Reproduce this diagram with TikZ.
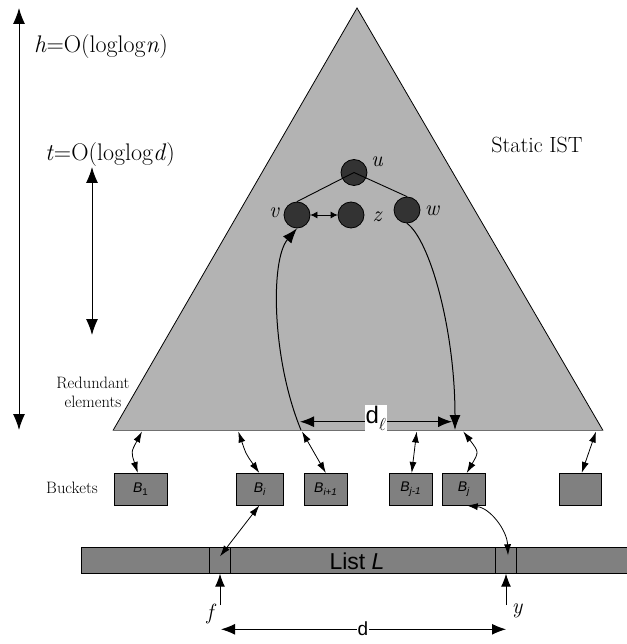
\documentclass[tikz,border=0pt]{standalone}
\usepackage{fontspec}
\setsansfont{Liberation Sans}
\usetikzlibrary{arrows.meta}
\definecolor{trigray}{HTML}{B3B3B3}
\definecolor{boxgray}{HTML}{808080}
\definecolor{dotgray}{HTML}{333333}
\definecolor{basegray}{HTML}{707070}
\begin{document}
\begin{tikzpicture}[x=1pt,y=-1pt,
  dotnode/.style={circle,minimum size=26pt,inner sep=0pt,fill=dotgray,draw=black,line width=0.8pt},
  lab/.style={inner sep=0pt,font=\fontsize{22}{22}\selectfont\itshape},
  bigtxt/.style={inner sep=0pt,font=\fontsize{24}{24}\selectfont},
  smalltxt/.style={inner sep=0pt,font=\fontsize{16.5}{19}\selectfont,align=center},
  bucket/.style={draw=black,fill=boxgray,minimum height=31.7pt,inner sep=0pt,line width=0.8pt,font=\fontsize{14}{14}\selectfont\sffamily},
  cell/.style={draw=black,minimum height=26pt,minimum width=21.4pt,inner sep=0pt,line width=0.8pt},
  bigdbl/.style={line width=1pt,{Latex[length=16pt,width=12pt]}-{Latex[length=16pt,width=12pt]}},
  midarr/.style={line width=1pt,-{Latex[length=15pt,width=11pt]}},
  middbl/.style={line width=1pt,{Latex[length=14pt,width=11pt]}-{Latex[length=14pt,width=11pt]}},
  smalldbl/.style={line width=0.8pt,{Latex[length=11pt,width=7pt]}-{Latex[length=11pt,width=7pt]}},
  tinydbl/.style={line width=0.8pt,{Latex[length=7pt,width=7pt]}-{Latex[length=7pt,width=7pt]}},
  uparr/.style={line width=1pt,-{Latex[length=13pt,width=10pt]}}
]
\useasboundingbox (0,0) rectangle (626,644);

% triangle (static IST)
\coordinate (apex) at (357,8);
\coordinate (bl) at (113,430.5);
\coordinate (br) at (603,430.5);
\fill[trigray] (apex) -- (bl) -- (br) -- cycle;
\draw[line width=0.8pt] (bl) -- (apex) -- (br);
\draw[line width=1.2pt,basegray] (bl) -- (br);

\node[inner sep=0pt,font=\fontsize{22}{22}\selectfont] (ist) at (537,145) {Static IST};

% left measures
\coordinate (hT) at (19,8);
\coordinate (hB) at (19,430);
\draw[bigdbl] (hB) -- (hT);
\node[bigtxt] (hl) at (101,47) {\textit{h}=O(loglog\textit{n})};
\node[bigtxt] (tl) at (110,155) {\textit{t}=O(loglog\textit{d})};
\coordinate (tT) at (92,167);
\coordinate (tB) at (92,335);
\draw[bigdbl] (tB) -- (tT);
\node[smalltxt] (red) at (93,392) {Redundant\\elements};

% tree nodes
\node[dotnode] (u) at (354,172.5) {};
\node[dotnode] (v) at (297,215) {};
\node[dotnode] (z) at (351,215) {};
\node[dotnode] (w) at (407,210) {};
\draw[line width=0.9pt] (v.north) -- (u.center) -- (w.north);
\draw[tinydbl] (v.east) -- (z.west);
\node[lab] (ul) at (377,162) {u};
\node[lab] (vl) at (274,213) {v};
\node[lab] (zl) at (377,217) {z};
\node[lab] (wl) at (432,211) {w};

% long curves
\coordinate (vb) at (301,430);
\coordinate (wb) at (455,430);
\draw[midarr] (vb) .. controls (272,360) and (270,260) .. (v.south);
\draw[midarr] (w.south) .. controls (430,240) and (455,330) .. (wb);
\coordinate (dlA) at (300,421.7);
\coordinate (dlB) at (452,421.7);
\draw[middbl] (dlA) -- (dlB);
\node[fill=white,inner sep=1pt,font=\fontsize{24}{24}\selectfont\sffamily] (dl) at (376,418) {d\raisebox{-3pt}{$_{\ell}$}};

% buckets
\node[smalltxt] (bk) at (72,488) {Buckets};
\node[bucket,minimum width=53pt] (B1) at (140.8,489.2) {\textit{B}\textsubscript{1}};
\node[bucket,minimum width=47.7pt] (Bi) at (259.9,489.2) {\textit{B\textsubscript{i}}};
\node[bucket,minimum width=43pt] (Bi1) at (325.8,489.2) {\textit{B\textsubscript{i+1}}};
\node[bucket,minimum width=42.7pt] (Bj1) at (410.7,489.2) {\textit{B\textsubscript{j-1}}};
\node[bucket,minimum width=42.3pt] (Bj) at (463.9,489.2) {\textit{B\textsubscript{j}}};
\node[bucket,minimum width=42.7pt] (Be) at (580.4,489.2) {};

% base-bucket connectors
\coordinate (c1) at (142,431.5);
\coordinate (ci) at (238.3,431.5);
\coordinate (ci1) at (302,431.5);
\coordinate (cj1) at (416.7,431.5);
\coordinate (cj) at (463.3,431.5);
\coordinate (ce) at (596,431.5);
\draw[smalldbl] (c1) .. controls (131,452) .. ([xshift=-3pt]B1.north);
\draw[smalldbl] (ci) .. controls (246,454) .. ([xshift=-0.6pt]Bi.north);
\draw[smalldbl] (ci1) -- (Bi1.north);
\draw[smalldbl] (cj1) -- ([xshift=1pt]Bj1.north);
\draw[smalldbl] (cj) .. controls (479,452) .. ([xshift=2.8pt]Bj.north);
\draw[smalldbl] (ce) -- ([xshift=1.3pt]Be.north);

% list L
\fill[boxgray] (81,547.3) rectangle (630,573.3);
\draw[line width=0.8pt] (630,547.3) -- (81,547.3) -- (81,573.3) -- (630,573.3);
\node[cell] (fc) at (220,560.3) {};
\node[cell] (yc) at (506,560.3) {};
\node[inner sep=0pt,font=\fontsize{23}{23}\selectfont\sffamily] (LL) at (357,561) {List \textit{L}};

\draw[smalldbl] ([xshift=-0.6pt]Bi.south) -- ([yshift=4pt]fc.center);
\draw[smalldbl] ([xshift=2.8pt]Bj.south) .. controls (490,508) and (507,530) .. ([xshift=2pt,yshift=5pt]yc.center);

% f, y, d
\coordinate (fA) at (220,605);
\coordinate (yA) at (506,605);
\draw[uparr] (fA) -- (fc.south);
\draw[uparr] (yA) -- (yc.south);
\node[lab] (fl) at (210,614) {f};
\node[lab] (yl) at (517,611) {y};
\coordinate (dA) at (221,629.3);
\coordinate (dB) at (506,629.3);
\draw[middbl] (dA) -- (dB);
\node[fill=white,inner sep=1pt,font=\fontsize{19}{19}\selectfont\sffamily] (dd) at (363,629) {d};
\end{tikzpicture}
\end{document}
